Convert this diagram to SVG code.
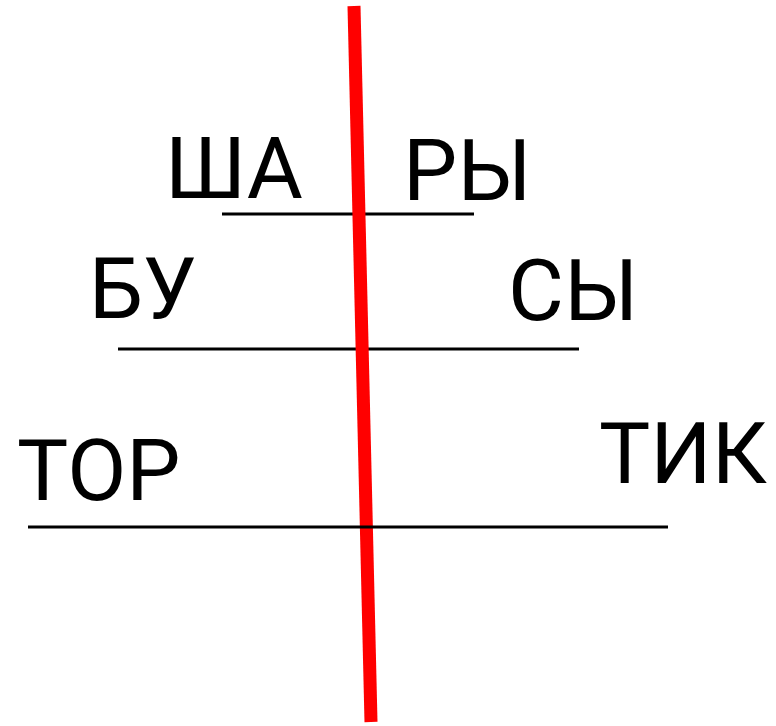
<svg xmlns="http://www.w3.org/2000/svg" width="776" height="726" viewBox="0 0 776 726">
<style>
text{font-family:Roboto,"Liberation Sans",sans-serif;font-size:86px;fill:#000}
.h{stroke:#000;stroke-width:3}
.r{stroke:#ff0000;stroke-width:13}
</style>
<rect width="776" height="726" fill="#fff"/>
<g id="connectors">
<line class="h" x1="222" y1="214" x2="474" y2="214"/>
<line class="h" x1="118" y1="349" x2="579" y2="349"/>
<line class="r" x1="354" y1="6" x2="371" y2="722"/>
<line class="h" x1="28" y1="527" x2="668" y2="527"/>
</g>
<g id="sha"><text x="165" y="198">ША</text></g>
<g id="ry"><text x="403" y="200">РЫ</text></g>
<g id="bu"><text x="89" y="318">БУ</text></g>
<g id="sy"><text x="508" y="320">СЫ</text></g>
<g id="tor"><text x="17" y="500">ТОР</text></g>
<g id="tik"><text x="599" y="483">ТИК</text></g>
</svg>
